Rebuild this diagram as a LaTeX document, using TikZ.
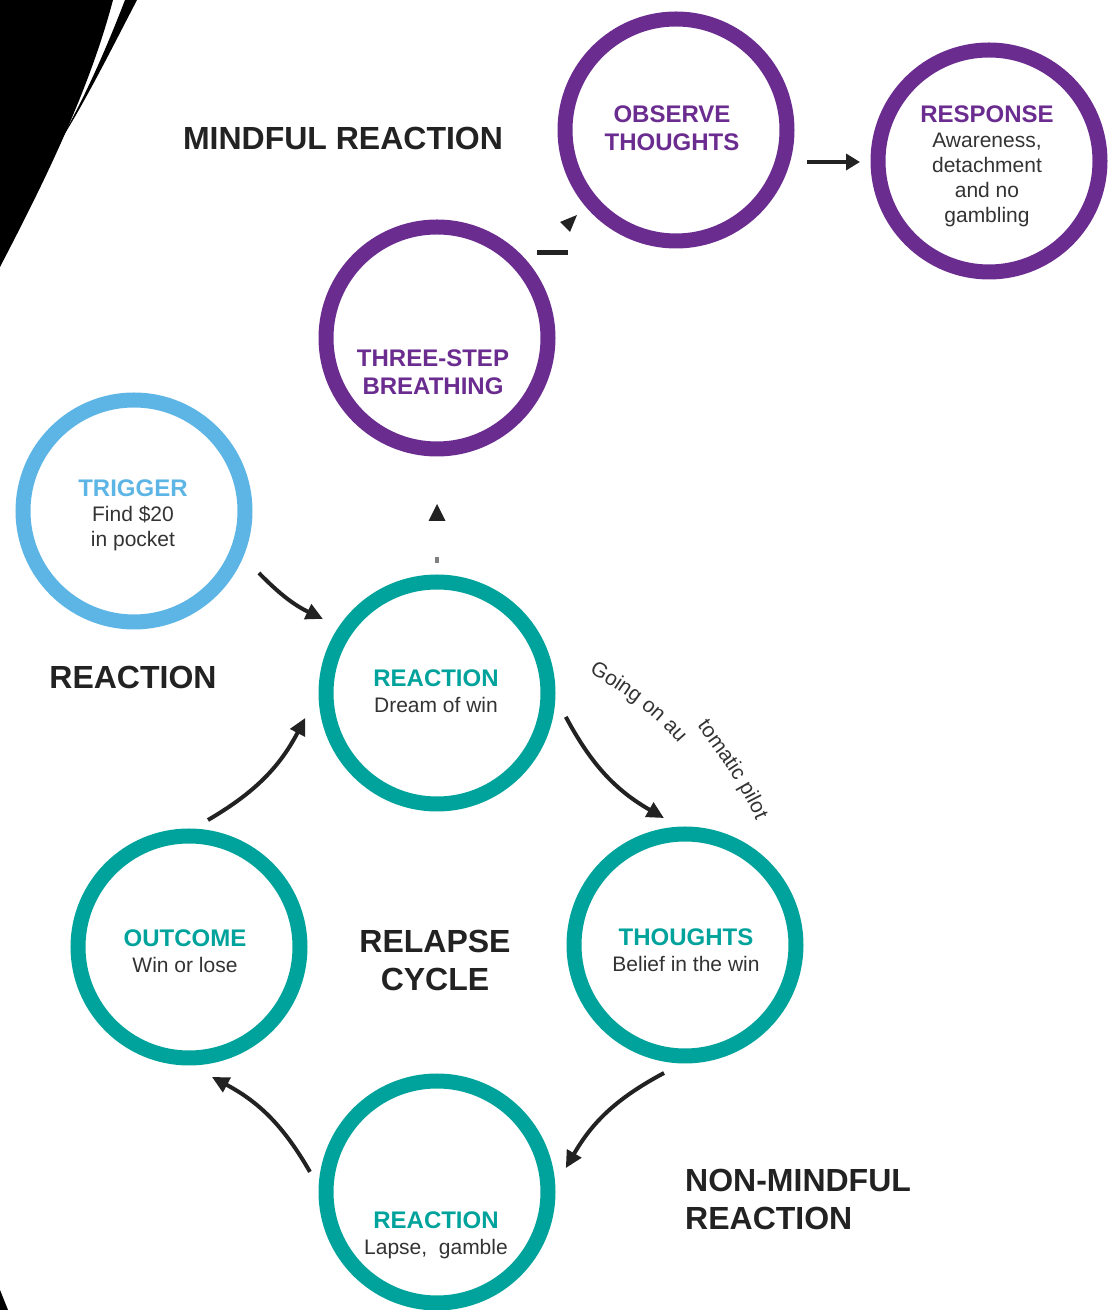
\documentclass[tikz,border=0pt]{standalone}
\usepackage{fontspec}
\setmainfont{Liberation Sans}
\usetikzlibrary{calc,arrows.meta,decorations.text}
\definecolor{purp}{HTML}{6B2C90}
\definecolor{teal}{HTML}{00A39B}
\definecolor{sky}{HTML}{5DB5E6}
\definecolor{ink}{HTML}{222222}
\definecolor{body}{HTML}{333333}
\tikzset{
  ring/.style={circle,draw=#1,line width=15pt,minimum size=222pt,inner sep=0pt},
  ctext/.style={align=center,text=body,font=\fontsize{21}{26}\selectfont,inner sep=0pt},
  bigtext/.style={text=ink,font=\fontsize{32}{38}\selectfont\bfseries,inner sep=0pt},
  arr/.style={draw=ink,line width=4pt,-{Triangle[length=17pt,width=16pt]}},
  curvtext/.style={decorate,decoration={text along path,text color=body,
    text={|\fontsize{21}{21}\selectfont|#1}}},
}
\newcommand{\hd}[2]{{\fontsize{24}{26}\selectfont\bfseries\color{#1}#2}}
\begin{document}
\begin{tikzpicture}[x=1pt,y=1pt]
\useasboundingbox (0,0) rectangle (1112,1310);
% black decoration top-left
\fill[black] (0,1310) -- (113,1310) .. controls (88,1215) and (40,1120) .. (0,1043) -- cycle;
\fill[black] (125,1310) .. controls (100,1245) and (78,1200) .. (57,1164)
  .. controls (82,1202) and (110,1258) .. (137,1310) -- cycle;
\fill[black] (0,0) -- (8,0) -- (0,20) -- cycle;

% circles
\node[ring=purp] (obs) at (676,1180) {};
\node[ring=purp] (resp) at (989,1149) {};
\node[ring=purp] (three) at (437,972) {};
\node[ring=sky] (trig) at (134,799) {};
\node[ring=teal] (reac) at (437,617) {};
\node[ring=teal] (thou) at (685,365) {};
\node[ring=teal] (outc) at (189,363) {};
\node[ring=teal] (laps) at (437,118) {};

% circle texts
\node[ctext] (obst) at ($(obs)+(-4,2)$) {\hd{purp}{OBSERVE}\\[2pt]\hd{purp}{THOUGHTS}};
\node[ctext,font=\fontsize{21}{25}\selectfont] (respt) at ($(resp)+(-2,-5)$) {\hd{purp}{RESPONSE}\\Awareness,\\detachment\\and no\\gambling};
\node[ctext] (threet) at ($(three)+(-4,-34)$) {\hd{purp}{THREE-STEP}\\[2pt]\hd{purp}{BREATHING}};
\node[ctext,font=\fontsize{21}{25}\selectfont] (trigt) at ($(trig)+(-1,-4)$) {\hd{sky}{TRIGGER}\\Find \$20\\in pocket};
\node[ctext] (react) at ($(reac)+(-1,1.5)$) {\hd{teal}{REACTION}\\Dream of win};
\node[ctext] (thout) at ($(thou)+(1,-5.5)$) {\hd{teal}{THOUGHTS}\\Belief in the win};
\node[ctext] (outct) at ($(outc)+(-4,-4.5)$) {\hd{teal}{OUTCOME}\\Win or lose};
\node[ctext] (lapst) at ($(laps)+(-1,-43)$) {\hd{teal}{REACTION}\\Lapse,\ \ gamble};

% big labels
\node[bigtext] (mind) at (343,1172) {MINDFUL REACTION};
\node[bigtext] (react2) at (133,633) {REACTION};
\node[bigtext,align=center] (relapse) at (435,350) {RELAPSE\\CYCLE};
\node[bigtext,align=left,anchor=west] (nonmind) at (685,111) {NON-MINDFUL\\REACTION};

% cycle arrows
\draw[arr] ($(trig)+(-26.4:139.5)$) to[bend right=10] ($(reac)+(147:136)$);
\draw[arr] ($(reac)+(-10.5:131)$) to[bend right=16] ($(thou)+(99.4:128.7)$);
\draw[arr] ($(thou)+(-99.3:129.7)$) to[bend right=16] ($(laps)+(10.5:131)$);
\draw[arr] ($(laps)+(171:128.6)$) to[bend right=16] ($(outc)+(-80:132)$);
\draw[arr] ($(outc)+(81.5:128.4)$) to[bend right=16] ($(reac)+(190.7:134)$);

% observe -> response
\draw[arr,line width=4.5pt,-{Triangle[length=14pt,width=16pt]}] ($(obs)+(131,-32)$) -- ($(resp)+(-129,-1)$);

% three-step -> observe (partial)
\coordinate (dashA) at ($(three)+(100,85.5)$);
\coordinate (dashB) at ($(three)+(131,85.5)$);
\draw[ink,line width=5pt] (dashA) -- (dashB);
\fill[ink] ($(obs)+(-99,-85)$) -- ($(obs)+(-116,-92)$) -- ($(obs)+(-106,-102)$) -- cycle;

% reaction -> three-step (partial)
\fill[ink] ($(reac)+(0,189)$) -- ($(reac)+(-8.5,172)$) -- ($(reac)+(8.5,172)$) -- cycle;
\fill[gray] ($(reac)+(-1.8,130)$) rectangle ($(reac)+(1.8,136)$);

% curved label
\path[curvtext={Going on au}]
  (589,637) .. controls (620,620) and (655,595) .. (680,565);
\path[curvtext={tomatic pilot}]
  (697,584) .. controls (721,551) and (745,519) .. (759,482);
\end{tikzpicture}
\end{document}
